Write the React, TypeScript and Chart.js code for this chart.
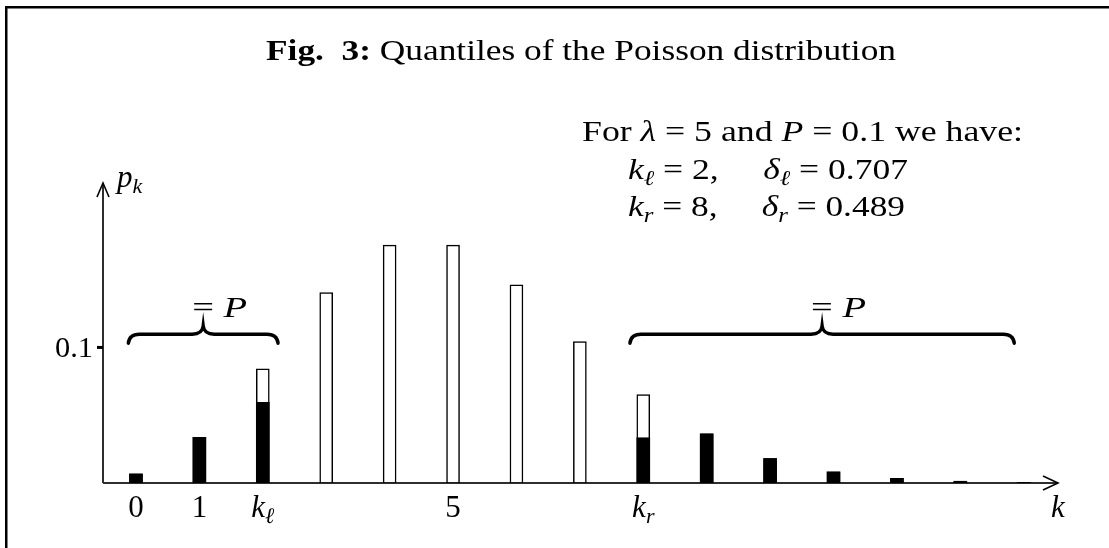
import React, { useEffect, useRef } from "react";
import { Chart, registerables } from "chart.js";

Chart.register(...registerables);

// Poisson probabilities p_k for lambda = 5, k = 0..14
const ks = [0, 1, 2, 3, 4, 5, 6, 7, 8, 9, 10, 11, 12, 13, 14];
const pk = [
  0.0067, 0.0337, 0.0842, 0.1404, 0.1755, 0.1755, 0.1462, 0.1044, 0.0653,
  0.0363, 0.0181, 0.0082, 0.0034, 0.0013, 0.0005,
];

// Quantile boundaries and the split fractions of the boundary bars
const kLeft = 2;
const kRight = 8;
const deltaLeft = 0.707;
const deltaRight = 0.489;

// Probability mass that belongs to the two tails (drawn solid)
const tailMass = ks.map((k, i) => {
  if (k < kLeft || k > kRight) return pk[i];
  if (k === kLeft) return deltaLeft * pk[i];
  if (k === kRight) return (1 - deltaRight) * pk[i];
  return 0;
});

type Seg = { t: string; s?: "r" | "i" | "b" | "sub" };

// Tick labels of the k axis
const xTickValues = [0, 1, 2, 5, 8];
const xTickLabels: Seg[][] = [
  [{ t: "0" }],
  [{ t: "1" }],
  [{ t: "k", s: "i" }, { t: "ℓ", s: "sub" }],
  [{ t: "5" }],
  [{ t: "k", s: "i" }, { t: "r", s: "sub" }],
];
const yTickValues = [0.1];
const yTickLabels = ["0.1"];

// Braces marking the two tails, each summing to P
const braceFrom = [-0.12, 7.79];
const braceTo = [2.24, 13.85];
const braceLevel = 0.1098;

const X_MIN = -0.52;
const X_MAX = 14.54;
const Y_MAX = 0.2213;

const FAMILY = '"Liberation Serif", "Times New Roman", Tinos, serif';

function fontFor(s: Seg["s"], size: number) {
  if (s === "b") return `bold ${size}px ${FAMILY}`;
  if (s === "i") return `italic ${size}px ${FAMILY}`;
  if (s === "sub") return `italic ${Math.round(size * 0.7)}px ${FAMILY}`;
  return `${size}px ${FAMILY}`;
}

function drawRich(
  ctx: CanvasRenderingContext2D,
  segs: Seg[],
  x: number,
  y: number,
  size: number,
  align: "left" | "center" | "right",
  targetWidth?: number
) {
  ctx.save();
  ctx.textBaseline = "alphabetic";
  ctx.textAlign = "left";
  const widths = segs.map((g) => {
    ctx.font = fontFor(g.s, size);
    return ctx.measureText(g.t).width;
  });
  const total = widths.reduce((a, b) => a + b, 0);
  const sx = targetWidth ? targetWidth / total : 1;
  const w = total * sx;
  let x0 = x;
  if (align === "center") x0 = x - w / 2;
  if (align === "right") x0 = x - w;
  ctx.translate(x0, y);
  ctx.scale(sx, 1);
  ctx.fillStyle = "#000";
  let cx = 0;
  segs.forEach((g, i) => {
    ctx.font = fontFor(g.s, size);
    ctx.fillText(g.t, cx, g.s === "sub" ? size * 0.2 : 0);
    cx += widths[i];
  });
  ctx.restore();
}

function drawBrace(ctx: CanvasRenderingContext2D, x0: number, x1: number, y: number) {
  const mid = (x0 + x1) / 2;
  const r = 11;
  ctx.save();
  ctx.strokeStyle = "#000";
  ctx.lineWidth = 3.5;
  ctx.lineCap = "round";
  ctx.beginPath();
  ctx.moveTo(x0, y + 9);
  ctx.quadraticCurveTo(x0 + 1, y, x0 + r, y);
  ctx.lineTo(mid - r, y);
  ctx.quadraticCurveTo(mid - 1, y, mid, y - 8);
  ctx.quadraticCurveTo(mid + 1, y, mid + r, y);
  ctx.lineTo(x1 - r, y);
  ctx.quadraticCurveTo(x1 - 1, y, x1, y + 9);
  ctx.stroke();
  ctx.restore();
}

const figurePlugin = {
  id: "figureDecor",
  afterDraw(chart: any) {
    const ctx: CanvasRenderingContext2D = chart.ctx;
    const xs = chart.scales.x;
    const ys = chart.scales.y;
    const area = chart.chartArea;
    const y0 = ys.getPixelForValue(0);
    const xLeft = area.left;

    // frame
    ctx.save();
    ctx.strokeStyle = "#000";
    ctx.lineWidth = 2.5;
    ctx.beginPath();
    ctx.moveTo(6.25, chart.height);
    ctx.lineTo(6.25, 7.25);
    ctx.lineTo(chart.width, 7.25);
    ctx.stroke();
    ctx.restore();

    // axes with open arrowheads
    ctx.save();
    ctx.strokeStyle = "rgba(0,0,0,0.82)";
    ctx.lineWidth = 2;
    ctx.beginPath();
    ctx.moveTo(xLeft, y0);
    ctx.lineTo(area.right, y0);
    ctx.moveTo(xLeft, y0);
    ctx.lineTo(xLeft, area.top);
    ctx.stroke();
    ctx.strokeStyle = "#000";
    ctx.lineWidth = 1.6;
    ctx.beginPath();
    ctx.moveTo(area.right - 15, y0 - 7);
    ctx.lineTo(area.right, y0);
    ctx.lineTo(area.right - 15, y0 + 7);
    ctx.moveTo(xLeft - 6, area.top + 14);
    ctx.lineTo(xLeft, area.top);
    ctx.lineTo(xLeft + 6, area.top + 14);
    ctx.stroke();
    ctx.restore();

    // y ticks
    yTickValues.forEach((v, i) => {
      const py = ys.getPixelForValue(v);
      ctx.fillStyle = "#000";
      ctx.fillRect(xLeft - 6, py - 1.5, 6, 3);
      drawRich(ctx, [{ t: yTickLabels[i] }], xLeft - 10, py + 10, 30, "right", 38);
    });

    // x tick labels
    xTickValues.forEach((v, i) => {
      drawRich(ctx, xTickLabels[i], xs.getPixelForValue(v), y0 + 34, 31, "center");
    });

    // axis names
    drawRich(ctx, [{ t: "k", s: "i" }], area.right, y0 + 34, 31, "center");
    drawRich(ctx, [{ t: "p", s: "i" }, { t: "k", s: "sub" }], xLeft + 14, area.top + 4, 31, "left");

    // tail braces
    braceFrom.forEach((from, i) => {
      const a = xs.getPixelForValue(from);
      const b = xs.getPixelForValue(braceTo[i]);
      const by = ys.getPixelForValue(braceLevel);
      drawBrace(ctx, a, b, by);
      drawRich(ctx, [{ t: "= " }, { t: "P", s: "i" }], (a + b) / 2 - 11, by - 17, 30, "left", 55);
    });

    // title
    drawRich(
      ctx,
      [{ t: "Fig.  3:", s: "b" }, { t: " Quantiles of the Poisson distribution" }],
      581,
      60,
      30,
      "center",
      630
    );

    // parameters
    drawRich(
      ctx,
      [
        { t: "For " },
        { t: "λ", s: "i" },
        { t: " = 5 and " },
        { t: "P", s: "i" },
        { t: " = 0.1 we have:" },
      ],
      582,
      141,
      30,
      "left",
      441
    );
    drawRich(
      ctx,
      [
        { t: "k", s: "i" },
        { t: "ℓ", s: "sub" },
        { t: " = " + kLeft + ",     " },
        { t: "δ", s: "i" },
        { t: "ℓ", s: "sub" },
        { t: " = " + deltaLeft.toFixed(3) },
      ],
      628,
      179,
      30,
      "left",
      280
    );
    drawRich(
      ctx,
      [
        { t: "k", s: "i" },
        { t: "r", s: "sub" },
        { t: " = " + kRight + ",     " },
        { t: "δ", s: "i" },
        { t: "r", s: "sub" },
        { t: " = " + deltaRight.toFixed(3) },
      ],
      628,
      216,
      30,
      "left",
      277
    );
  },
};

export default function App() {
  const ref = useRef<HTMLCanvasElement | null>(null);

  useEffect(() => {
    if (!ref.current) return;
    const chart = new Chart(ref.current, {
      type: "bar",
      data: {
        datasets: [
          {
            label: "tail",
            data: ks.map((k, i) => ({ x: k, y: tailMass[i] })),
            backgroundColor: "#000",
            borderWidth: 0,
            barThickness: 13,
            grouped: false,
            order: 0,
          },
          {
            label: "p_k",
            data: ks.map((k, i) => ({ x: k, y: pk[i] })),
            backgroundColor: "#fff",
            borderColor: "#000",
            borderWidth: 1.5,
            barThickness: 13,
            grouped: false,
            order: 1,
          },
        ],
      } as any,
      options: {
        animation: false,
        responsive: false,
        maintainAspectRatio: false,
        layout: { padding: { left: 103, right: 51, top: 183, bottom: 65 } },
        scales: {
          x: { type: "linear", min: X_MIN, max: X_MAX, offset: false, display: false },
          y: { min: 0, max: Y_MAX, display: false },
        },
        plugins: {
          legend: { display: false },
          tooltip: { enabled: false },
          title: { display: false },
        },
      },
      plugins: [figurePlugin],
    });
    return () => chart.destroy();
  }, []);

  return (
    <div style={{ position: "fixed", left: 0, top: 0, width: 1109, height: 548, background: "#fff" }}>
      <canvas ref={ref} width={1109} height={548} style={{ width: 1109, height: 548, display: "block" }} />
    </div>
  );
}
